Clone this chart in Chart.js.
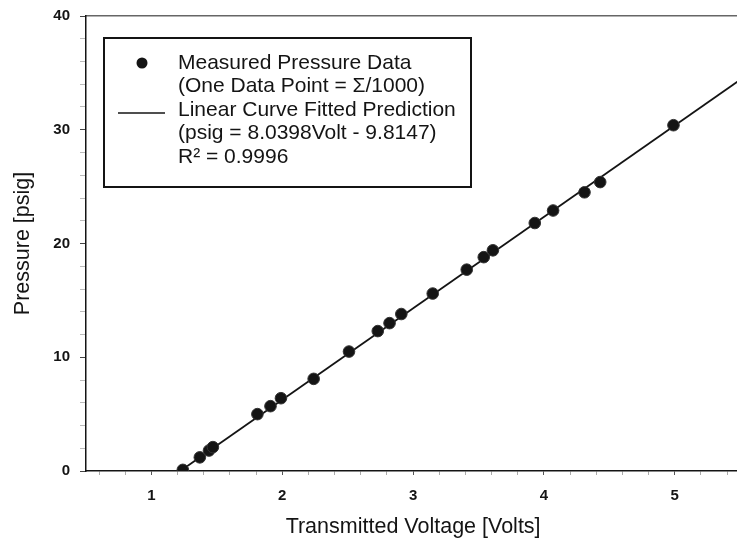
<!DOCTYPE html>
<html>
<head>
<meta charset="utf-8">
<script src="https://cdn.jsdelivr.net/npm/chart.js@4/dist/chart.umd.min.js"></script>
<style>
  body { margin: 0; background: #fff; overflow: hidden; }
</style>
</head>
<body>
<!-- plot runs a little past the right edge of the window -->
<canvas id="myChart" width="747" height="548"></canvas>
<script>
// measured pressure vs transmitter voltage
const voltage = [1.24, 1.37, 1.44, 1.47, 1.81, 1.91, 1.99, 2.24, 2.51, 2.73, 2.82,
  2.91, 3.15, 3.41, 3.54, 3.61, 3.93, 4.07, 4.31, 4.43, 4.99];
const pressure = [0.1, 1.2, 1.8, 2.1, 5.0, 5.7, 6.4, 8.1, 10.5, 12.3, 13.0,
  13.8, 15.6, 17.7, 18.8, 19.4, 21.8, 22.9, 24.5, 25.4, 30.4];

// linear fit from the legend
const fitSlope = 8.0398;
const fitIntercept = -9.8147;
const rSquared = 0.9996;

// axis ranges / labelled ticks
const xMin = 0.5;
const xMax = 5.5;
const xMinorStep = 0.2;
const yMin = 0;
const yMax = 40;
const yMinorStep = 2;
const xLabels = [1, 2, 3, 4, 5];
const yLabels = [0, 10, 20, 30, 40];

const legendLines = [
  "Measured Pressure Data",
  "(One Data Point = \u03A3/1000)",
  "Linear Curve Fitted Prediction",
  "(psig = " + fitSlope.toFixed(4) + "Volt - " + Math.abs(fitIntercept).toFixed(4) + ")",
  "R\u00B2 = " + rSquared.toFixed(4),
];

const points = voltage.map((v, i) => ({ x: v, y: pressure[i] }));

// fitted line runs from its zero crossing to the right edge
const fitStart = -fitIntercept / fitSlope;
const fitLine = [
  { x: fitStart, y: fitSlope * fitStart + fitIntercept },
  { x: xMax, y: fitSlope * xMax + fitIntercept },
];

const ink = "#141414";
const textFont = "'Liberation Sans', Arial, sans-serif";

// boxed legend with multi-line entries
const boxLegend = {
  id: "boxLegend",
  afterDraw(chart) {
    const ctx = chart.ctx;
    ctx.save();
    ctx.fillStyle = "#fff";
    ctx.fillRect(104, 38, 367, 149);
    ctx.strokeStyle = ink;
    ctx.lineWidth = 2;
    ctx.strokeRect(104, 38, 367, 149);

    // marker sample
    ctx.beginPath();
    ctx.arc(142, 63, 5.5, 0, Math.PI * 2);
    ctx.fillStyle = ink;
    ctx.fill();

    // line sample
    ctx.beginPath();
    ctx.moveTo(118, 113);
    ctx.lineTo(165, 113);
    ctx.lineWidth = 1.6;
    ctx.stroke();

    ctx.font = "21px " + textFont;
    ctx.textBaseline = "middle";
    ctx.fillStyle = ink;
    const rows = [63, 86, 110, 133, 157];
    legendLines.forEach((s, i) => ctx.fillText(s, 178, rows[i]));
    ctx.restore();
  },
};

const data = {
  datasets: [
    {
      type: "scatter",
      label: "Measured Pressure Data",
      data: points,
      pointRadius: 5.8,
      pointBackgroundColor: ink,
      pointBorderColor: "#333",
      pointBorderWidth: 1,
    },
    {
      type: "line",
      label: "Linear Curve Fitted Prediction",
      data: fitLine,
      borderColor: ink,
      borderWidth: 1.8,
      pointRadius: 0,
      fill: false,
    },
  ],
};

const isLabelled = (v, labels) => labels.some((l) => Math.abs(l - v) < 1e-6);

const config = {
  type: "scatter",
  data: data,
  options: {
    responsive: false,
    animation: false,
    devicePixelRatio: 1,
    layout: { padding: { top: 16, right: 0, left: 0, bottom: 0 } },
    scales: {
      x: {
        type: "linear",
        position: "bottom",
        min: xMin,
        max: xMax,
        afterFit: (axis) => {
          axis.height = 77;
          axis.paddingLeft = 0;
          axis.paddingRight = 0;
        },
        afterBuildTicks: (axis) => {
          // minor ticks every 0.2 V, on round values
          const ticks = [];
          for (let k = Math.ceil(xMin / xMinorStep); k * xMinorStep <= xMax + 1e-9; k++) {
            ticks.push({ value: Math.round(k * xMinorStep * 10) / 10 });
          }
          axis.ticks = ticks;
        },
        border: { color: ink, width: 1.5 },
        grid: {
          drawOnChartArea: false,
          drawTicks: true,
          tickLength: 4,
          tickColor: (c) => isLabelled(c.tick.value, xLabels) ? "#555" : "#aaa",
        },
        ticks: {
          autoSkip: false,
          maxRotation: 0,
          padding: 12,
          color: ink,
          font: { size: 15, weight: "bold", family: textFont },
          callback: (v) => isLabelled(v, xLabels) ? Math.round(v) : "",
        },
        title: {
          display: true,
          text: "Transmitted Voltage [Volts]",
          color: ink,
          font: { size: 21.5, family: textFont },
          padding: { top: 8, bottom: 8 },
        },
      },
      xTop: {
        type: "linear",
        position: "top",
        min: xMin,
        max: xMax,
        afterFit: (axis) => { axis.height = 0; },
        border: { color: "#666", width: 1.5 },
        grid: { display: false },
        ticks: { display: false },
      },
      y: {
        type: "linear",
        position: "left",
        min: yMin,
        max: yMax,
        afterFit: (axis) => {
          axis.width = 86;
          axis.paddingTop = 0;
          axis.paddingBottom = 0;
        },
        border: { color: ink, width: 1.5 },
        grid: {
          drawOnChartArea: false,
          drawTicks: true,
          tickLength: 6,
          tickColor: (c) => isLabelled(c.tick.value, yLabels) ? "#444" : "#bbb",
        },
        ticks: {
          stepSize: yMinorStep,
          autoSkip: false,
          padding: 10,
          color: ink,
          font: { size: 15, weight: "bold", family: textFont },
          callback: (v) => isLabelled(v, yLabels) ? v : "",
        },
        title: {
          display: true,
          text: "Pressure [psig]",
          color: ink,
          font: { size: 21.5, family: textFont },
          padding: { top: 10, bottom: 10 },
        },
      },
    },
    plugins: {
      legend: { display: false },
      tooltip: { enabled: false },
    },
  },
  plugins: [boxLegend],
};

const myChart = new Chart(document.getElementById("myChart"), config);
</script>
</body>
</html>
